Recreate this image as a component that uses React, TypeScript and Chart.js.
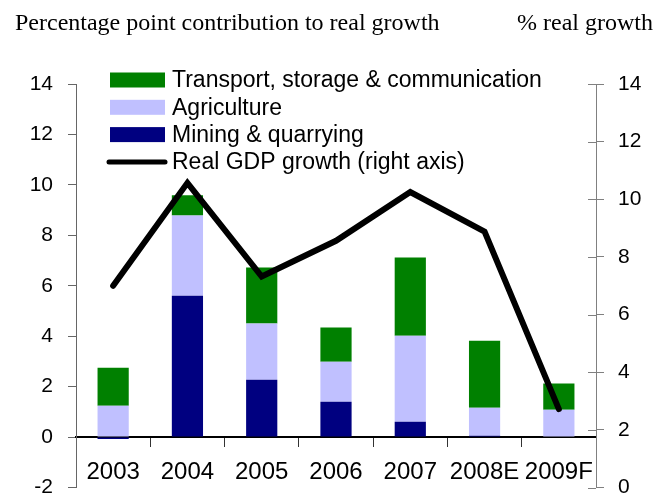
import React, { useEffect, useRef } from 'react';
import { Chart, registerables } from 'chart.js';

Chart.register(...registerables);

// ---- Data ----
const categories = ['2003', '2004', '2005', '2006', '2007', '2008E', '2009F'];
const mining = [-0.08, 5.6, 2.27, 1.4, 0.61, 0.05, 0];
const agriculture = [1.24, 3.19, 2.23, 1.59, 3.41, 1.11, 1.08];
const transport = [1.51, 0.8, 2.22, 1.35, 3.1, 2.66, 1.04];
const gdpGrowth = [7.0, 10.57, 7.32, 8.56, 10.25, 8.88, 2.72];

const leftAxis = { min: -2, max: 14, step: 2 };
const rightAxis = { min: 0, max: 14, step: 2 };

const leftTitle = 'Percentage point contribution to real growth';
const rightTitle = '% real growth';

const legendItems = [
  { label: 'Transport, storage & communication', color: '#008000', type: 'box' },
  { label: 'Agriculture', color: '#C0C0FF', type: 'box' },
  { label: 'Mining & quarrying', color: '#000080', type: 'box' },
  { label: 'Real GDP growth (right axis)', color: '#000000', type: 'line' },
];

const SANS = "'Liberation Sans', Arial, sans-serif";
const SERIF = "'Liberation Serif', 'Times New Roman', serif";

const decorPlugin = {
  id: 'decor',
  afterDraw(chart: any) {
    const ctx = chart.ctx;
    ctx.save();
    // titles
    ctx.fillStyle = '#000';
    ctx.font = `24px ${SERIF}`;
    ctx.textBaseline = 'alphabetic';
    ctx.textAlign = 'left';
    ctx.fillText(leftTitle, 15, 30);
    ctx.textAlign = 'right';
    ctx.fillText(rightTitle, 653, 30);

    // inner ticks of the right axis
    const y1 = chart.scales.y1;
    ctx.strokeStyle = '#808080';
    ctx.lineWidth = 1;
    y1.ticks.forEach((t: any) => {
      const py = Math.round(y1.getPixelForValue(t.value)) + 0.5;
      ctx.beginPath();
      ctx.moveTo(y1.left - 8, py);
      ctx.lineTo(y1.left, py);
      ctx.stroke();
    });

    // legend
    const x0 = 110;
    const rowStart = 80;
    const rowGap = 27.3;
    ctx.font = `23px ${SANS}`;
    ctx.textAlign = 'left';
    ctx.textBaseline = 'middle';
    legendItems.forEach((it, i) => {
      const cy = rowStart + i * rowGap;
      if (it.type === 'box') {
        ctx.fillStyle = it.color;
        ctx.fillRect(x0, cy - 7.5, 55, 15);
      } else {
        ctx.strokeStyle = it.color;
        ctx.lineWidth = 5;
        ctx.lineCap = 'round';
        ctx.beginPath();
        ctx.moveTo(x0 - 1, cy);
        ctx.lineTo(x0 + 55, cy);
        ctx.stroke();
      }
      ctx.fillStyle = '#000';
      ctx.fillText(it.label, 172, cy + 1);
    });
    ctx.restore();
  },
};

export default function App() {
  const ref = useRef<HTMLCanvasElement | null>(null);

  useEffect(() => {
    if (!ref.current) return;
    const chart = new Chart(ref.current, {
      type: 'bar',
      data: {
        labels: categories,
        datasets: [
          {
            type: 'line',
            label: 'Real GDP growth (right axis)',
            data: gdpGrowth,
            yAxisID: 'y1',
            borderColor: '#000',
            backgroundColor: '#000',
            borderWidth: 6,
            pointRadius: 0,
            tension: 0,
            borderCapStyle: 'round',
            order: 0,
          } as any,
          {
            label: 'Mining & quarrying',
            data: mining,
            backgroundColor: '#000080',
            yAxisID: 'y',
            order: 1,
          },
          {
            label: 'Agriculture',
            data: agriculture,
            backgroundColor: '#C0C0FF',
            yAxisID: 'y',
            order: 1,
          },
          {
            label: 'Transport, storage & communication',
            data: transport,
            backgroundColor: '#008000',
            yAxisID: 'y',
            order: 1,
          },
        ],
      },
      options: {
        animation: false,
        responsive: true,
        maintainAspectRatio: false,
        datasets: {
          bar: { categoryPercentage: 1, barPercentage: 0.42, borderWidth: 0 },
        },
        layout: { padding: { top: 84, bottom: 10.5, left: 0, right: 0 } },
        plugins: {
          legend: { display: false },
          tooltip: { enabled: false },
          title: { display: false },
        },
        scales: {
          x: {
            stacked: true,
            position: { y: 0 } as any,
            offset: true,
            grid: {
              offset: true,
              drawOnChartArea: false,
              drawTicks: true,
              tickLength: 9,
              color: '#333',
            },
            border: { display: true, color: '#000', width: 2 },
            ticks: {
              color: '#000',
              font: { family: SANS, size: 24 },
              padding: 12,
              maxRotation: 0,
              autoSkip: false,
            },
            afterFit: (s: any) => {
              s.paddingLeft = 0;
              s.paddingRight = 0;
            },
          },
          y: {
            stacked: true,
            position: 'left',
            min: leftAxis.min,
            max: leftAxis.max,
            grid: {
              drawOnChartArea: false,
              drawTicks: true,
              tickLength: 8,
              color: '#666',
            },
            border: { display: true, color: '#666', width: 1 },
            ticks: {
              stepSize: leftAxis.step,
              color: '#000',
              font: { family: SANS, size: 21 },
              padding: 15,
            },
            afterFit: (s: any) => {
              s.width = 76;
              s.paddingTop = 0;
              s.paddingBottom = 0;
            },
          },
          y1: {
            stacked: false,
            position: 'right',
            min: rightAxis.min,
            max: rightAxis.max,
            grid: {
              drawOnChartArea: false,
              drawTicks: true,
              tickLength: 8,
              color: '#808080',
            },
            border: { display: true, color: '#808080', width: 1 },
            ticks: {
              stepSize: rightAxis.step,
              color: '#000',
              font: { family: SANS, size: 21 },
              padding: 14,
            },
            afterFit: (s: any) => {
              s.width = 74;
              s.paddingTop = 0;
              s.paddingBottom = 0;
            },
          },
        },
      },
      plugins: [decorPlugin],
    });
    return () => chart.destroy();
  }, []);

  return (
    <div style={{ position: 'absolute', left: 0, top: 0, width: 670, height: 498, background: '#fff' }}>
      <canvas ref={ref} />
    </div>
  );
}
